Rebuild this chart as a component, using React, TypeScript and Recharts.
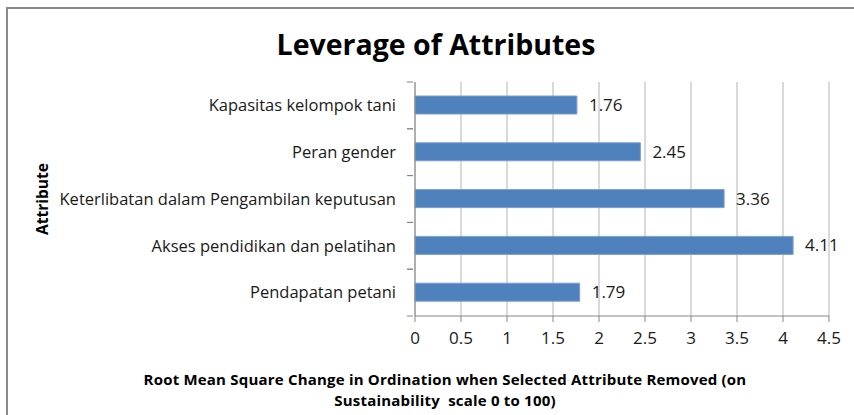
import { BarChart, Bar, XAxis, YAxis, CartesianGrid, LabelList } from 'recharts'

const attributes = [
  'Kapasitas kelompok tani',
  'Peran gender',
  'Keterlibatan dalam Pengambilan keputusan',
  'Akses pendidikan dan pelatihan',
  'Pendapatan petani',
]
const rmsValues = [1.76, 2.45, 3.36, 4.11, 1.79]
const xTicks = [0, 0.5, 1, 1.5, 2, 2.5, 3, 3.5, 4, 4.5]

const data = attributes.map((name, i) => ({ name, value: rmsValues[i] }))

const FONT = '"Open Sans", Lato, sans-serif'

// category tick: label plus Excel-style tick marks on the band edges
const AttrTick = (props: any) => {
  const { x, y, payload } = props
  const half = payload.offset || 0
  const ax = x + 6
  return (
    <g>
      <line x1={ax - 6} x2={ax} y1={y - half} y2={y - half} stroke="#868686" />
      <line x1={ax - 6} x2={ax} y1={y + half} y2={y + half} stroke="#868686" />
      <text x={x - 11} y={y} dy="0.35em" textAnchor="end" fill="#1a1a1a" fontSize={16.5} fontFamily={FONT}>
        {payload.value}
      </text>
    </g>
  )
}

const axisTitleStyle = {
  position: 'absolute' as const,
  left: 0,
  width: 890,
  textAlign: 'center' as const,
  fontFamily: FONT,
  fontWeight: 700,
  fontSize: 15,
  letterSpacing: '0.2px',
  lineHeight: '18px',
  height: 18,
  color: '#000',
}

export default function App() {
  return (
    <div style={{ position: 'absolute', left: 0, top: 0, width: 854, height: 415, background: '#fff', overflow: 'hidden' }}>
      {/* frame */}
      <div style={{ position: 'absolute', left: 6, top: 7, width: 860, height: 430, borderLeft: '2px solid #8a8a8a', borderTop: '2px solid #8a8a8a' }} />
      <div style={{ position: 'absolute', left: 0, top: 25, width: 872, textAlign: 'center', fontFamily: FONT, fontWeight: 700, fontSize: 28.5, color: '#000' }}>
        Leverage of Attributes
      </div>
      <div style={{ ...axisTitleStyle, top: 370 }}>
        Root Mean Square Change in Ordination when Selected Attribute Removed (on
      </div>
      <div style={{ ...axisTitleStyle, top: 391 }}>
        Sustainability&nbsp; scale 0 to 100)
      </div>
      <div style={{ position: 'absolute', left: 0, top: 0 }}>
        <BarChart
          width={854}
          height={415}
          data={data}
          layout="vertical"
          margin={{ top: 82, right: 25, bottom: 69, left: 15 }}
          barSize={18}
        >
          <CartesianGrid horizontal={false} stroke="#b3b3b3" />
          <XAxis
            type="number"
            domain={[0, 4.5]}
            ticks={xTicks}
            interval={0}
            height={30}
            axisLine={{ stroke: '#868686' }}
            tickLine={{ stroke: '#868686' }}
            tickSize={6}
            tickMargin={10}
            tick={{ fill: '#1a1a1a', fontSize: 17, fontFamily: FONT }}
          />
          <YAxis
            type="category"
            dataKey="name"
            width={400}
            axisLine={{ stroke: '#868686' }}
            tickLine={false}
            tick={<AttrTick />}
            label={{
              value: 'Attribute',
              angle: -90,
              position: 'insideLeft',
              offset: 27,
              style: { textAnchor: 'middle', fontFamily: FONT, fontWeight: 700, fontSize: 15.5, fill: '#000' },
            }}
          />
          <Bar dataKey="value" fill="#4f81bd" stroke="#7d9fd0" strokeWidth={1} isAnimationActive={false}>
            <LabelList
              dataKey="value"
              position="right"
              offset={12}
              style={{ fill: '#1a1a1a', fontSize: 17, fontFamily: FONT }}
            />
          </Bar>
        </BarChart>
      </div>
    </div>
  )
}
